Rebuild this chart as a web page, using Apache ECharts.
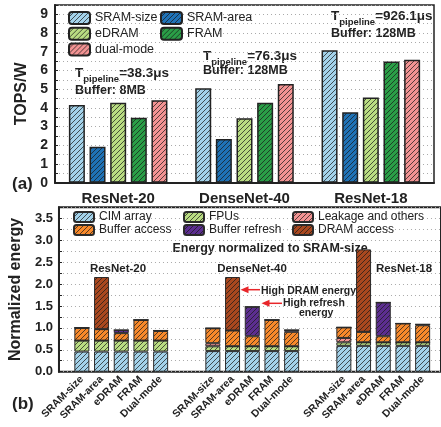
<!DOCTYPE html>
<html><head><meta charset="utf-8">
<script src="https://cdn.jsdelivr.net/npm/echarts@6/dist/echarts.min.js"></script>
<style>html,body{margin:0;padding:0;background:#fff}#c{width:441px;height:427px}</style>
</head><body><div id="c"></div>
<script>
// ---- Top chart (a): TOPS/W ----
const netsA = ['ResNet-20', 'DenseNet-40', 'ResNet-18'];
const sramSize = [4.15, 5.05, 7.08];
const sramArea = [1.92, 2.33, 3.76];
const edram    = [4.28, 3.44, 4.55];
const fram     = [3.47, 4.28, 6.48];
const dualMode = [4.41, 5.28, 6.57];
const topsTicks = [0,1,2,3,4,5,6,7,8,9];

// ---- Bottom chart (b): normalized energy ----
const configs = ['SRAM-size', 'SRAM-area', 'eDRAM', 'FRAM', 'Dual-mode'];
const groupNames = ['ResNet-20', 'DenseNet-40', 'ResNet-18'];
const cimArray     = [[0.46,0.46,0.46,0.46,0.46],[0.47,0.47,0.47,0.47,0.47],[0.59,0.59,0.59,0.59,0.59]];
const fpus         = [[0.25,0.25,0.25,0.25,0.25],[0.11,0.11,0.11,0.11,0.11],[0.08,0.08,0.08,0.08,0.08]];
const leakage      = [[0,0,0,0,0],[0.07,0,0,0,0],[0.10,0,0,0,0]];
const bufferAccess = [[0.29,0.26,0.17,0.47,0.22],[0.34,0.36,0.23,0.60,0.33],[0.24,0.24,0.14,0.43,0.39]];
const bufferRefresh= [[0,0,0.07,0,0.01],[0,0,0.67,0,0.04],[0,0,0.77,0,0.02]];
const dramAccess   = [[0,1.19,0,0,0],[0,1.22,0,0,0],[0,1.88,0,0,0]];
const energyTicks = ['0.0','0.5','1.0','1.5','2.0','2.5','3.0','3.5'];

function hatch(color){
  const s = 5;
  const c = document.createElement('canvas'); c.width = s; c.height = s;
  const x = c.getContext('2d');
  x.fillStyle = color; x.fillRect(0,0,s,s);
  x.strokeStyle = 'rgba(25,25,25,0.8)'; x.lineWidth = 0.9;
  x.beginPath();
  x.moveTo(0,s); x.lineTo(s,0);
  x.moveTo(-1,1); x.lineTo(1,-1);
  x.moveTo(s-1,s+1); x.lineTo(s+1,s-1);
  x.stroke();
  return {image: c, repeat: 'repeat'};
}
const C = {
  sramSize:'#a3d2ea', sramArea:'#1f72b6', edram:'#b9dc82', fram:'#2a9e47', dual:'#f29393',
  cim:'#a3d2ea', fpu:'#b9dc82', leak:'#f29393', buf:'#f7892b', ref:'#5c2e90', dram:'#a9481f'
};
const FONT = '"Liberation Sans", Arial, sans-serif';

const chart = echarts.init(document.getElementById('c'), null, {renderer:'canvas'});

const topSeries = [
  ['SRAM-size', sramSize, C.sramSize],
  ['SRAM-area', sramArea, C.sramArea],
  ['eDRAM', edram, C.edram],
  ['FRAM', fram, C.fram],
  ['dual-mode', dualMode, C.dual]
].map(([n,d,col]) => ({
  name:n, type:'bar', xAxisIndex:0, yAxisIndex:0, data:d,
  barWidth:16, barGap:'29%', barCategoryGap:'22%',
  itemStyle:{color:hatch(col), borderColor:'#222', borderWidth:1.5},
  emphasis:{disabled:true}
}));

const comps = [
  ['CIM array', cimArray, C.cim],
  ['FPUs', fpus, C.fpu],
  ['Leakage and others', leakage, C.leak],
  ['Buffer access', bufferAccess, C.buf],
  ['Buffer refresh', bufferRefresh, C.ref],
  ['DRAM access', dramAccess, C.dram]
];
const botSeries = [];
for (let g=0; g<3; g++){
  comps.forEach(([n,arr,col]) => {
    botSeries.push({
      name:n, type:'bar', xAxisIndex:2+g, yAxisIndex:2+g, stack:'g'+g,
      data: arr[g], barWidth:15,
      itemStyle:{color:hatch(col), borderColor:'#2a2a2a', borderWidth:1},
      emphasis:{disabled:true}
    });
  });
}

const subLefts = [72, 203, 334];
const grids = [
  {left:55, top:5, right:7, bottom:244.3, show:true, borderColor:'#222', borderWidth:1.5},
  {left:55, top:207.3, right:-10, bottom:55.3, show:true, borderColor:'#222', borderWidth:2},
].concat(subLefts.map(l => ({left:l, top:207.3, width:98.5, bottom:55.3})));

const dotted = {show:true, lineStyle:{color:'#aaa', type:[1,3], width:1}};

const xAxes = [
  {gridIndex:0, type:'category', data:netsA, axisTick:{show:false},
   axisLine:{lineStyle:{color:'#222', width:2}},
   axisLabel:{color:'#222', fontFamily:FONT, fontWeight:'bold', fontSize:15, margin:9}},
  {gridIndex:1, type:'value', show:false, min:0, max:1}
].concat([0,1,2].map(g => ({
  gridIndex:2+g, type:'category', data:configs, axisTick:{show:false}, axisLine:{show:false},
  axisLabel:{color:'#222', fontFamily:FONT, fontWeight:'bold', fontSize:10.5, rotate:45, margin:6, interval:0}
})));

const yAxes = [
  {gridIndex:0, type:'value', min:0, max:9.5, interval:0.5,
   name:'TOPS/W', nameLocation:'middle', nameGap:19,
   nameTextStyle:{color:'#222', fontFamily:FONT, fontWeight:'bold', fontSize:16},
   axisLine:{show:true, lineStyle:{color:'#222', width:2}},
   axisTick:{show:true, inside:true, length:3, lineStyle:{color:'#222'}},
   splitLine:dotted,
   axisLabel:{color:'#222', fontFamily:FONT, fontWeight:'bold', fontSize:14, margin:7,
     formatter: v => topsTicks.indexOf(v) >= 0 ? String(v) : ''}},
  {gridIndex:1, type:'value', min:0, max:3.75, interval:0.25,
   name:'Normalized energy', nameLocation:'middle', nameGap:25,
   nameTextStyle:{color:'#222', fontFamily:FONT, fontWeight:'bold', fontSize:16},
   axisLine:{show:true, lineStyle:{color:'#222', width:2}},
   axisTick:{show:true, inside:true, length:3, lineStyle:{color:'#222'}},
   splitLine:dotted,
   axisLabel:{color:'#222', fontFamily:FONT, fontWeight:'bold', fontSize:13, margin:6,
     formatter: v => { const s = v.toFixed(1); return (Math.abs(v*2 - Math.round(v*2)) < 1e-6 && energyTicks.indexOf(s) >= 0) ? s : ''; }}}
].concat([0,1,2].map(g => ({gridIndex:2+g, type:'value', min:0, max:3.75, show:false, splitLine:{show:false}})));

const legendText = {color:'#222', fontFamily:FONT, fontSize:12.5, lineHeight:13};
const botLegendText = {color:'#222', fontFamily:FONT, fontSize:12, lineHeight:12};
const legends = [
  {left:68, top:11, padding:0, orient:'vertical', itemWidth:21, itemHeight:12, itemGap:1.7,
   data:['SRAM-size','eDRAM','dual-mode'], textStyle:legendText, selectedMode:false},
  {left:160, top:11, padding:0, orient:'vertical', itemWidth:21, itemHeight:12, itemGap:1.7,
   data:['SRAM-area','FRAM'], textStyle:legendText, selectedMode:false},
  {left:73, top:211, padding:0, orient:'vertical', itemWidth:20, itemHeight:10, itemGap:1,
   data:['CIM array','Buffer access'], textStyle:botLegendText, selectedMode:false},
  {left:183, top:211, padding:0, orient:'vertical', itemWidth:20, itemHeight:10, itemGap:1,
   data:['FPUs','Buffer refresh'], textStyle:botLegendText, selectedMode:false},
  {left:292, top:211, padding:0, orient:'vertical', itemWidth:20, itemHeight:10, itemGap:1,
   data:['Leakage and others','DRAM access'], textStyle:botLegendText, selectedMode:false}
];

function tpipe(x, y, val){
  return {type:'text', left:x, top:y, style:{
    text:'{a|T}{b|pipeline}{a|=' + val + '}',
    rich:{
      a:{fontFamily:FONT, fontWeight:'bold', fontSize:13.5, lineHeight:15, fill:'#222', verticalAlign:'top'},
      b:{fontFamily:FONT, fontWeight:'bold', fontSize:9.5, lineHeight:9, fill:'#222', padding:[8,0,0,0], verticalAlign:'top'}
    }}};
}
function txt(x, y, s, size, weight, align){
  return {type:'text', x:x, y:y, style:{text:s, fontFamily:FONT, fontWeight:weight||'bold', fontSize:size,
    fill:'#222', align:align||'left', verticalAlign:'middle'}};
}
function arrow(x1, x2, y){
  return [
    {type:'line', shape:{x1:x1, y1:y, x2:x2+6, y2:y}, style:{stroke:'#e8262a', lineWidth:1.5}},
    {type:'polygon', shape:{points:[[x2,y],[x2+8,y-3.5],[x2+8,y+3.5]]}, style:{fill:'#e8262a'}}
  ];
}

const graphic = [
  tpipe(75, 66, '38.3μs'), txt(75, 91, 'Buffer: 8MB', 12.5),
  tpipe(203, 49, '76.3μs'), txt(203, 71, 'Buffer: 128MB', 12.5),
  tpipe(331, 9, '926.1μs'), txt(331, 34, 'Buffer: 128MB', 12.5),
  txt(12, 184, '(a)', 17), txt(12, 404, '(b)', 17),
  txt(270, 249, 'Energy normalized to SRAM-size', 12.5, 'bold', 'center'),
  txt(118, 269, 'ResNet-20', 11.5, 'bold', 'center'),
  txt(252, 269, 'DenseNet-40', 11.5, 'bold', 'center'),
  txt(404, 269, 'ResNet-18', 11.5, 'bold', 'center'),
  txt(261, 291, 'High DRAM energy', 10.5, 'bold'),
  txt(283, 303.5, 'High refresh', 10.5, 'bold'),
  txt(299, 313.5, 'energy', 10.5, 'bold')
].concat(arrow(260, 240.5, 289.7), arrow(282, 261.5, 303.3));

chart.setOption({
  animation:false,
  backgroundColor:'#fff',
  grid:grids, xAxis:xAxes, yAxis:yAxes, legend:legends,
  series: topSeries.concat(botSeries),
  graphic: graphic
});
</script></body></html>
